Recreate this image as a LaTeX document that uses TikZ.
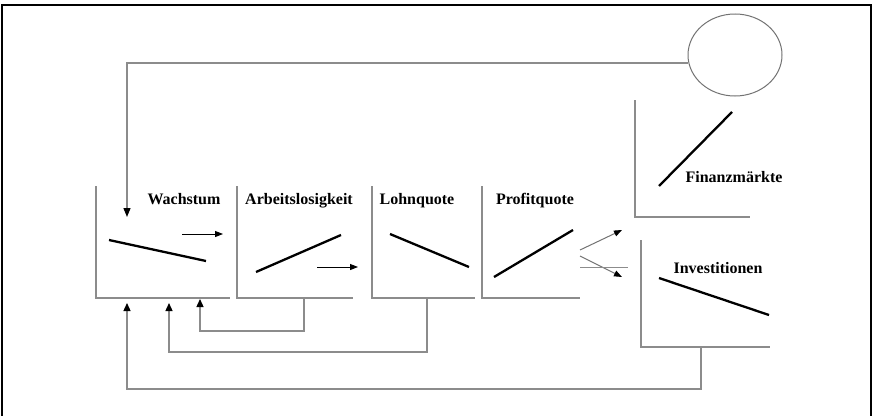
\documentclass[tikz,border=0pt]{standalone}
\usepackage{fontspec}
\setmainfont{Liberation Serif}
\usetikzlibrary{arrows.meta,shapes.geometric}
\begin{document}
\begin{tikzpicture}[x=1pt,y=-1pt,
  axis/.style={draw=black!45,line width=1.5pt},
  link/.style={draw=black!45,line width=1.3pt},
  curve/.style={draw=black,line width=2.3pt},
  flow/.style={draw=black,line width=1pt,-{Triangle[length=8pt,width=6pt]}},
  split/.style={draw=black!55,line width=1pt,-{Triangle[length=8pt,width=6pt,color=black]}},
  back/.style={link,-{Triangle[length=8pt,width=7pt,color=black]}},
  lbl/.style={font=\bfseries\fontsize{16}{18}\selectfont,anchor=base,inner sep=0pt}]
\useasboundingbox (0,0) rectangle (872,415);
\fill[white] (0,0) rectangle (872,415);
% outer frame
\draw[line width=2.4pt] (2,416) -- (2,5) -- (871,5) -- (871,416);

% chart axes: corner coordinates of each panel
\coordinate (w0) at (96,298);  \coordinate (wt) at (96,186);  \coordinate (we) at (230,298);
\coordinate (a0) at (237,298); \coordinate (at) at (237,186); \coordinate (ae) at (353,298);
\coordinate (l0) at (372,298); \coordinate (lt) at (372,186); \coordinate (le) at (475,298);
\coordinate (p0) at (482,298); \coordinate (pt) at (482,186); \coordinate (pe) at (580,298);
\coordinate (f0) at (635,217); \coordinate (ft) at (635,100); \coordinate (fe) at (750,217);
\coordinate (i0) at (641,347); \coordinate (it) at (641,240); \coordinate (ie) at (770,347);
\draw[axis] (wt) -- (w0) -- (we);
\draw[axis] (at) -- (a0) -- (ae);
\draw[axis] (lt) -- (l0) -- (le);
\draw[axis] (pt) -- (p0) -- (pe);
\draw[axis] (ft) -- (f0) -- (fe);
\draw[axis] (it) -- (i0) -- (ie);

% titles
\node[lbl] (tw) at (184,204) {Wachstum};
\node[lbl] (ta) at (299,204) {Arbeitslosigkeit};
\node[lbl] (tl) at (417,204) {Lohnquote};
\node[lbl] (tp) at (535,204) {Profitquote};
\node[lbl] (tf) at (734,182) {Finanzmärkte};
\node[lbl] (ti) at (718,273) {Investitionen};

% trend lines
\draw[curve] (109,240) -- (206,261);
\draw[curve] (256,272) -- (341,235);
\draw[curve] (390,234) -- (469,267);
\draw[curve] (494,277) -- (573,230);
\draw[curve] (659,186) -- (732,112);
\draw[curve] (659,278) -- (769,315);

% circle and feedback into growth
\node[draw=black!55,line width=1pt,ellipse,minimum width=94pt,minimum height=82pt,inner sep=0pt] (fm) at (735,55) {};
\coordinate (wtop) at (127,217);
\draw[link,-{Triangle[length=9pt,width=7pt,color=black]}] (fm.west |- 0,63) -- (127,63) -- (wtop);

% transmission arrows between panels
\coordinate (f1s) at (182,234); \coordinate (f1e) at (223,234);
\coordinate (f2s) at (317,267); \coordinate (f2e) at (358,267);
\draw[flow] (f1s) -- (f1e);
\draw[flow] (f2s) -- (f2e);

% split from profit share
\coordinate (s1) at (580,250); \coordinate (s1e) at (622,230);
\coordinate (s2) at (580,256); \coordinate (s2e) at (622,277);
\draw[split] (s1) -- (s1e);
\draw[split] (s2) -- (s2e);
\draw[link,line width=1pt] (580,267) -- (628,267);

% feedback loops into growth
\coordinate (ab) at (304,298); \coordinate (lb) at (427,298); \coordinate (ib) at (701,347);
\coordinate (wa) at (200,299); \coordinate (wl) at (169,303); \coordinate (wi) at (127,303);
\draw[back] (ab) -- (304,331) -- (200,331) -- (wa);
\draw[back] (lb) -- (427,352) -- (169,352) -- (wl);
\draw[back] (ib) -- (701,389) -- (127,389) -- (wi);
\end{tikzpicture}
\end{document}
